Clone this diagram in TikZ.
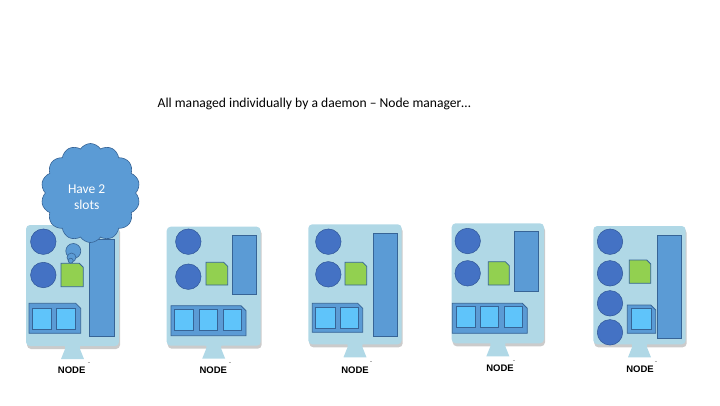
\documentclass[tikz,border=0pt]{standalone}
\usepackage{fontspec}
\setmainfont{Carlito}
\newfontfamily\nodefont{Liberation Sans}
\usetikzlibrary{shapes.symbols}
\definecolor{boardc}{RGB}{176,216,230}
\definecolor{circc}{RGB}{68,114,196}
\definecolor{circb}{RGB}{47,85,151}
\definecolor{medc}{RGB}{91,155,213}
\definecolor{edgec}{RGB}{55,100,150}
\definecolor{greenc}{RGB}{146,208,80}
\definecolor{skyc}{RGB}{95,196,250}
\tikzset{
  board/.style={fill=boardc, rounded corners=4pt},
  shadowb/.style={fill=black!45, opacity=0.45, rounded corners=4pt},
  core/.style={circle, fill=circc, draw=circb, line width=0.5pt, inner sep=0pt, minimum size=25.5pt},
  mem/.style={fill=medc, draw=edgec, line width=0.8pt},
  slotg/.style={fill=greenc, draw=edgec, line width=0.8pt},
  cont/.style={fill=medc, draw=edgec, line width=0.8pt},
  sq/.style={fill=skyc, draw=edgec, line width=0.8pt},
  lbl/.style={font=\nodefont\bfseries\fontsize{9.5}{11}\selectfont, inner sep=0pt},
}
% board with shadow and stand: x1 y1 x2 y2
\newcommand\myboard[4]{%
  \pgfmathsetmacro\cx{(#1+#3)/2}%
  \fill[shadowb] ({#1+1},{#2+3}) rectangle ({#3+1},{#4+3});
  \fill[boardc] ({\cx-9},{#4-1}) .. controls ({\cx-7},{#4}) .. ({\cx-7.5},{#4+3})
     -- ({\cx-11.5},{#4+13}) -- ({\cx+11.5},{#4+13}) -- ({\cx+7.5},{#4+3})
     .. controls ({\cx+7},{#4}) .. ({\cx+9},{#4-1}) -- cycle;
  \draw[black!30, line width=0.5pt] ({\cx+15},{#4+16.5}) -- ({\cx+17},{#4+16.5});
  \fill[board] (#1,#2) rectangle (#3,#4);
}
% cut-corner box: style x1 y1 x2 y2 cut
\newcommand\cutbox[6]{%
  \draw[#1] (#2,#3) -- ({#4-#6},#3) -- (#4,{#3+#6}) -- (#4,#5) -- (#2,#5) -- cycle;
}
\begin{document}
\begin{tikzpicture}[x=1pt,y=-1pt]
\useasboundingbox (0,0) rectangle (720,405);
\node[anchor=west, inner sep=0pt, font=\fontsize{13.6}{15}\selectfont] (title) at (157.5,104)
  {All managed individually by a daemon – Node manager…};

% ---------- Node 1 ----------
\myboard{26}{225}{119}{346}
\node[core] (n1c1) at (43.3,241.7) {};
\node[core] (n1c2) at (43.3,275) {};
\cutbox{slotg}{61}{263.3}{83.3}{286.7}{4}
\draw[mem] (89,239) rectangle (114,336.7);
\cutbox{cont}{29}{303.3}{80.7}{333.3}{5}
\draw[sq] (32.3,308.3) rectangle (51.7,329.3);
\draw[sq] (56,308.3) rectangle (75.7,329.3);
\node[cloud, cloud puffs=14, cloud puff arc=115, aspect=1, fill=medc, draw=edgec, line width=0.6pt,
  minimum width=99pt, minimum height=99pt, inner sep=0pt] (cloud) at (90.5,193) {};
\node[circle, fill=medc, draw=edgec, line width=0.6pt, minimum size=15pt, inner sep=0pt] (b1) at (73.3,251) {};
\node[circle, fill=medc, draw=edgec, line width=0.6pt, minimum size=9pt, inner sep=0pt] (b2) at (71.5,257.5) {};
\node[circle, fill=medc, draw=edgec, line width=0.6pt, minimum size=5pt, inner sep=0pt] (b3) at (70.7,260.7) {};
\node[text=white, align=center, font=\fontsize{13.5}{15.7}\selectfont, inner sep=0pt] (cloudtxt) at (86.7,197) {Have 2\\slots};
\node[lbl] (l1) at (71.7,370) {NODE};

% ---------- Node 2 ----------
\myboard{166.7}{226.7}{260.7}{345.7}
\node[core] (n2c1) at (188.3,241.7) {};
\node[core] (n2c2) at (188.3,276.7) {};
\cutbox{slotg}{206}{262.3}{227.7}{285}{4}
\draw[mem] (232.3,235) rectangle (256.7,294.3);
\cutbox{cont}{171}{305.7}{246}{335.7}{5}
\draw[sq] (174.7,309.3) rectangle (193.7,330.3);
\draw[sq] (199.3,309.3) rectangle (217.7,330.3);
\draw[sq] (223.3,309.3) rectangle (241.7,330.3);
\node[lbl] (l2) at (213.3,370) {NODE};

% ---------- Node 3 ----------
\myboard{308.3}{224.3}{401.7}{344.3}
\node[core] (n3c1) at (328.3,241.7) {};
\node[core] (n3c2) at (328.3,274.3) {};
\cutbox{slotg}{345}{262.3}{366.7}{285}{4}
\draw[mem] (373.3,233.3) rectangle (397.3,336.7);
\cutbox{cont}{312.3}{303.3}{362.7}{332.3}{5}
\draw[sq] (315.3,307) rectangle (335.3,328.3);
\draw[sq] (340.7,307) rectangle (358.3,328.3);
\node[lbl] (l3) at (355,370) {NODE};

% ---------- Node 4 ----------
\myboard{451.7}{223.3}{544}{343.3}
\node[core] (n4c1) at (467.7,241) {};
\node[core] (n4c2) at (467.7,273.3) {};
\cutbox{slotg}{488.3}{261.7}{509.3}{285}{4}
\draw[mem] (514,231.7) rectangle (538.7,291.7);
\cutbox{cont}{452.3}{303.3}{527.3}{333.3}{5}
\draw[sq] (456,306.7) rectangle (475.7,327.7);
\draw[sq] (480.7,306.7) rectangle (498.3,327.7);
\draw[sq] (504.3,306.7) rectangle (522.3,327.7);
\node[lbl] (l4) at (500,368.3) {NODE};

% ---------- Node 5 ----------
\myboard{593.3}{226}{685.7}{344.3}
\node[core] (n5c1) at (610,241.7) {};
\node[core] (n5c2) at (610,273.3) {};
\node[core] (n5c3) at (610,303.3) {};
\node[core] (n5c4) at (610,332.3) {};
\cutbox{slotg}{629.3}{260}{650.7}{283.3}{4}
\draw[mem] (657.3,235) rectangle (681.7,338.3);
\cutbox{cont}{627.3}{305}{655.7}{333.3}{5}
\draw[sq] (631,308.3) rectangle (651,329);
\node[lbl] (l5) at (640,369.3) {NODE};
\end{tikzpicture}
\end{document}
